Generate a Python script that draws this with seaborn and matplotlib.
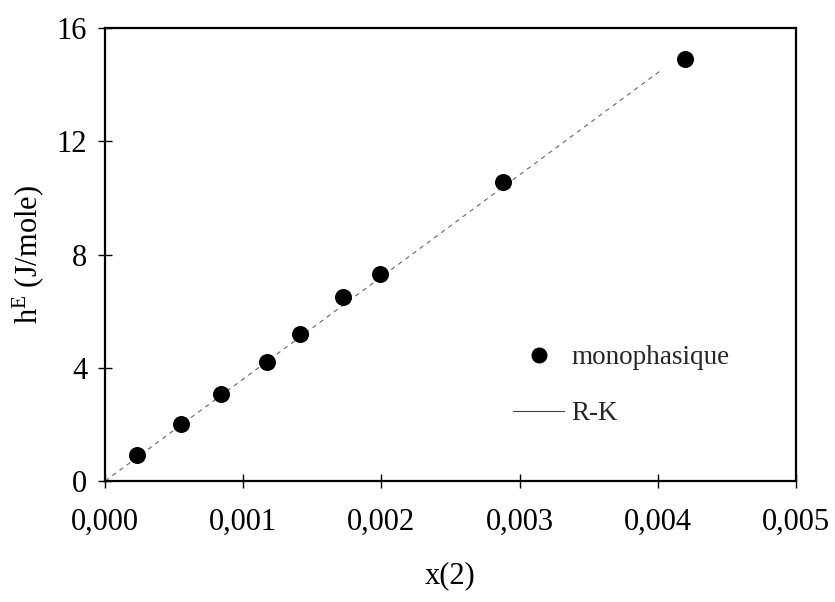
import matplotlib
matplotlib.use("Agg")
import matplotlib.pyplot as plt
from matplotlib.lines import Line2D
import seaborn as sns
import pandas as pd

x_mono = [0.000232, 0.00055, 0.00084, 0.00117, 0.00141, 0.00172, 0.00199, 0.00288, 0.0042]
h_mono = [0.92, 2.02, 3.07, 4.2, 5.2, 6.5, 7.33, 10.58, 14.92]
x_rk = [0.0, 0.00402]
h_rk = [0.0, 14.5]
x_ticks = [0.000, 0.001, 0.002, 0.003, 0.004, 0.005]
x_tick_labels = ["0,000", "0,001", "0,002", "0,003", "0,004", "0,005"]
y_ticks = [0, 4, 8, 12, 16]

sns.set_theme(style="white")
plt.rcParams['font.family'] = ['Liberation Serif', 'DejaVu Serif']
plt.rcParams['mathtext.fontset'] = 'custom'
plt.rcParams['mathtext.rm'] = 'Liberation Serif'
plt.rcParams['mathtext.it'] = 'Liberation Serif:italic'

fig = plt.figure(figsize=(8.35, 6.02), dpi=100)
ax = fig.add_axes([0.126, 0.201, 0.827, 0.752])

df_m = pd.DataFrame({"x": x_mono, "h": h_mono})
df_l = pd.DataFrame({"x": x_rk, "h": h_rk})

sns.lineplot(data=df_l, x="x", y="h", ax=ax, color="#666666", linewidth=0.8,
             linestyle=(0, (4, 4)), zorder=2, legend=False)
sns.scatterplot(data=df_m, x="x", y="h", ax=ax, color="black", s=150,
                edgecolor="black", linewidth=0, zorder=3, legend=False)

ax.set_xlim(0, 0.005)
ax.set_ylim(0, 16)
ax.set_xticks(x_ticks)
ax.set_xticklabels(x_tick_labels)
ax.set_yticks(y_ticks)
ax.tick_params(axis='x', pad=14)
ax.tick_params(axis='both', which='major', direction='inout', length=10, width=1,
               color='black', labelsize=22, labelcolor='black', bottom=True, left=True)
ax.tick_params(axis='y', pad=8)
for s in ax.spines.values():
    s.set_color('black')
    s.set_linewidth(1.6)
ax.set_xlabel("x(2)", fontsize=22, color='black', labelpad=18)
ax.set_ylabel(r"h$^{\mathrm{E}}$ (J/mole)", fontsize=22, color='black', labelpad=8)

handles = [Line2D([], [], marker='o', color='black', linestyle='none', markersize=10.5),
           Line2D([], [], color='#444444', linewidth=0.8)]
leg = ax.legend(handles, ["monophasique", "R-K"], loc='upper left', bbox_to_anchor=(0.555, 0.354),
                frameon=False, fontsize=19.5, handlelength=1.9, handletextpad=0.25,
                labelspacing=1.15)

fig.savefig("out.png", dpi=100, facecolor='white')
